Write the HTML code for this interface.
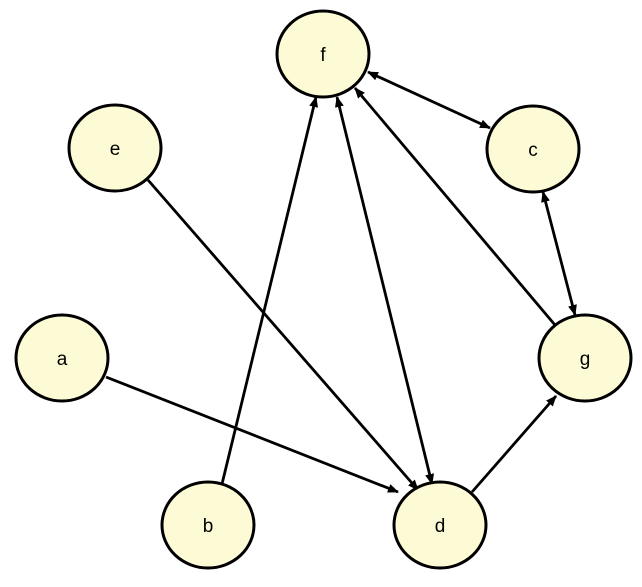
<!DOCTYPE html>
<html><head><meta charset="utf-8"><style>
html,body{margin:0;padding:0;background:#fff;}
svg{display:block;}
text{font-family:"Liberation Sans",sans-serif;font-size:19px;fill:#000;}
</style></head><body>
<svg width="642" height="587" viewBox="0 0 642 587" xmlns="http://www.w3.org/2000/svg">
<defs>
<marker id="ah" markerWidth="11" markerHeight="9" refX="10" refY="4.5" orient="auto-start-reverse" markerUnits="userSpaceOnUse">
<path d="M0,0 L11,4.5 L0,9 Z" fill="#000"/>
</marker>
</defs>
<g stroke="#000" stroke-width="2.8" fill="none">
<line x1="222" y1="484" x2="316" y2="97" marker-end="url(#ah)"/>
<line x1="337" y1="97" x2="432" y2="484" marker-start="url(#ah)" marker-end="url(#ah)"/>
<line x1="555" y1="325" x2="355" y2="88" marker-end="url(#ah)"/>
<line x1="368" y1="72" x2="490" y2="128" marker-start="url(#ah)" marker-end="url(#ah)"/>
<line x1="543" y1="192" x2="575" y2="315" marker-start="url(#ah)" marker-end="url(#ah)"/>
<line x1="148" y1="180" x2="418" y2="490" marker-end="url(#ah)"/>
<line x1="106" y1="377" x2="398" y2="492" marker-end="url(#ah)"/>
<line x1="472" y1="492" x2="556" y2="396" marker-end="url(#ah)"/>
</g>
<g fill="#fdfbd6" stroke="#000" stroke-width="3">
<ellipse cx="323" cy="54" rx="46" ry="43"/>
<ellipse cx="115" cy="148" rx="46" ry="43"/>
<ellipse cx="533" cy="149" rx="46" ry="43"/>
<ellipse cx="62" cy="358" rx="46" ry="43"/>
<ellipse cx="585" cy="358" rx="46" ry="43"/>
<ellipse cx="208" cy="525" rx="46" ry="43"/>
<ellipse cx="440" cy="525" rx="46" ry="43"/>
</g>
<g text-anchor="middle">
<text x="323" y="61">f</text>
<text x="115" y="155">e</text>
<text x="533" y="156">c</text>
<text x="62" y="365">a</text>
<text x="585" y="365">g</text>
<text x="208" y="532">b</text>
<text x="440" y="532">d</text>
</g>
</svg>
</body></html>
